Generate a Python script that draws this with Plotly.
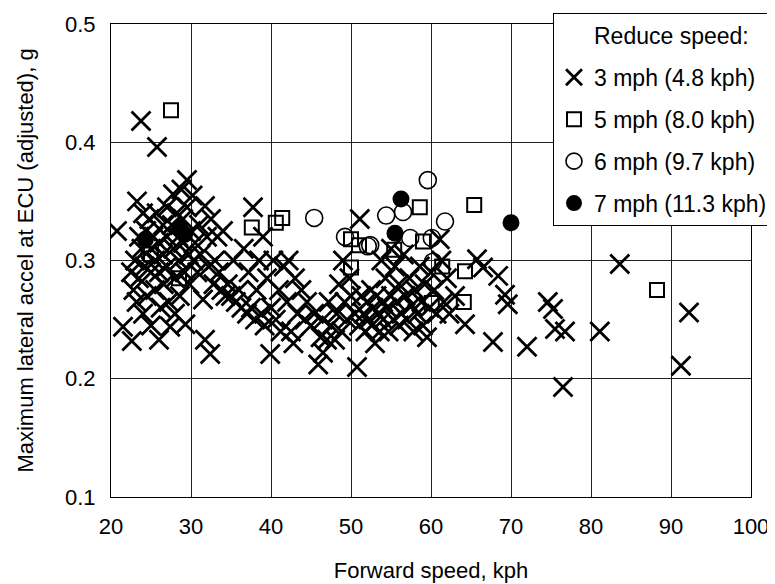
import plotly.graph_objects as go

# 3 mph (4.8 kph) runs
x3 = [23.75, 25.75,
      20.75, 21.5, 22.6, 22.5, 22.8, 23.0, 23.2, 23.25, 23.5, 23.5, 23.8, 24.0, 24.0, 24.2, 24.4, 24.5, 24.8,
      25.0, 25.0, 25.0, 25.3, 25.5, 25.5, 25.7, 26.0, 26.0, 26.0, 26.2, 26.5, 26.5, 26.6, 27.0, 27.0, 27.0,
      27.2, 27.4, 27.75, 27.6, 27.8, 28.0, 28.0, 28.2, 28.4, 28.5, 28.6, 28.8, 29.0, 29.0, 29.2, 29.3, 29.5,
      29.5, 29.7, 29.8, 30.0, 30.2, 30.3, 30.5, 30.8, 31.0, 31.2, 31.5, 31.75, 31.75, 32.0, 32.2, 32.4, 32.5,
      32.8, 33.0,
      33.3, 33.5, 33.8, 34.0, 34.3, 34.6, 35.0, 35.3, 35.6, 36.0, 36.3, 36.6, 37.0, 37.2, 37.5, 37.75, 38.0,
      38.2, 38.5, 38.8, 39.0, 39.2, 39.5, 39.9, 40.0, 40.3, 40.6, 41.0, 41.2, 41.6, 42.0, 42.2, 42.5, 42.8,
      43.0, 43.3, 43.8, 44.2, 44.5, 45.0, 45.4,
      45.9, 46.2, 46.5, 46.5, 47.0, 47.2, 47.5, 48.0, 48.2, 48.5, 48.8, 49.0, 49.2, 49.5, 49.8, 50.0,
      50.5, 50.75, 51.0, 51.1, 51.3, 51.6, 51.8, 52.0, 52.2, 52.5, 52.6, 52.8, 53.0, 53.2, 53.4, 53.6, 53.8,
      54.0, 54.0, 54.3, 54.5, 54.7, 55.0, 55.0, 55.3, 55.5, 55.7, 56.0, 56.0, 56.3, 56.6, 56.8, 57.0, 57.3,
      57.6, 57.8, 58.0, 58.3, 58.6, 58.8, 59.0, 59.2, 59.5, 59.8, 60.0, 60.4, 60.7, 61.1, 61.3, 61.6, 62.0,
      62.3, 63.0, 64.25, 65.75, 66.5, 68.4, 69.25, 69.6, 67.75, 72.0, 74.6, 75.25, 75.5, 76.75, 76.5, 81.1,
      83.6, 91.25, 92.25]
y3 = [0.418, 0.396,
      0.325, 0.244, 0.232, 0.290, 0.275, 0.300, 0.265, 0.350, 0.320, 0.285, 0.310, 0.340, 0.255, 0.295, 0.325, 0.270, 0.335,
      0.310, 0.290, 0.245, 0.320, 0.300, 0.275, 0.340, 0.233, 0.315, 0.290, 0.260, 0.330, 0.305, 0.280, 0.345, 0.320, 0.295,
      0.265, 0.244, 0.356, 0.330, 0.310, 0.285, 0.255, 0.340, 0.320, 0.300, 0.270, 0.360, 0.335, 0.315, 0.290, 0.246, 0.368,
      0.345, 0.305, 0.280, 0.325, 0.355, 0.300, 0.315, 0.290, 0.330, 0.305, 0.267, 0.346, 0.233, 0.320, 0.295, 0.221, 0.335,
      0.280, 0.300,
      0.320, 0.290, 0.275, 0.325, 0.270, 0.280, 0.270, 0.300, 0.265, 0.275, 0.260, 0.310, 0.255, 0.290, 0.260, 0.345, 0.250,
      0.275, 0.300, 0.255, 0.320, 0.245, 0.285, 0.221, 0.260, 0.300, 0.250, 0.275, 0.240, 0.295, 0.265, 0.300, 0.240, 0.230,
      0.285, 0.255, 0.275, 0.250, 0.265, 0.245, 0.255,
      0.212, 0.235, 0.250, 0.222, 0.233, 0.265, 0.245, 0.233, 0.255, 0.280, 0.240, 0.300, 0.265, 0.250, 0.285, 0.270,
      0.255, 0.210, 0.245, 0.335, 0.270, 0.255, 0.240, 0.265, 0.250, 0.275, 0.245, 0.260, 0.230, 0.270, 0.255, 0.240, 0.300,
      0.265, 0.250, 0.285, 0.260, 0.240, 0.270, 0.310, 0.250, 0.295, 0.265, 0.245, 0.280, 0.255, 0.305, 0.270, 0.250, 0.285,
      0.262, 0.240, 0.275, 0.255, 0.295, 0.265, 0.245, 0.280, 0.235, 0.260, 0.290, 0.275, 0.255, 0.318, 0.300, 0.265, 0.285,
      0.255, 0.270, 0.246, 0.301, 0.294, 0.287, 0.271, 0.263, 0.231, 0.227, 0.265, 0.259, 0.242, 0.240, 0.193, 0.240,
      0.297, 0.211, 0.256]

# 5 mph (8.0 kph) runs
x5 = [27.5, 25.0, 28.5, 37.6, 40.6, 41.4, 50.0, 51.0, 55.4, 58.6, 59.0, 50.0, 61.4, 64.25, 60.1, 64.1, 65.4, 88.25]
y5 = [0.427, 0.305, 0.285, 0.328, 0.332, 0.336, 0.318, 0.313, 0.309, 0.345, 0.316, 0.294, 0.295, 0.291, 0.264, 0.265, 0.347, 0.275]

# 6 mph (9.7 kph) runs
x6 = [24.8, 45.4, 49.25, 52.1, 52.4, 54.4, 56.5, 57.4, 59.6, 60.1, 60.25, 61.75]
y6 = [0.305, 0.336, 0.320, 0.312, 0.313, 0.338, 0.341, 0.319, 0.368, 0.319, 0.299, 0.333]

# 7 mph (11.3 kph) runs
x7 = [24.3, 28.6, 29.2, 55.5, 56.25, 70.0]
y7 = [0.318, 0.328, 0.322, 0.323, 0.352, 0.332]

legend_title = "Reduce speed:"
names = ["3 mph (4.8 kph)", "5 mph (8.0 kph)", "6 mph (9.7 kph)", "7 mph (11.3 kph)"]
x_ticks = [20, 30, 40, 50, 60, 70, 80, 90, 100]
y_ticks = [0.1, 0.2, 0.3, 0.4, 0.5]

FONT = "Liberation Sans, Arial, sans-serif"
FS = 22
W, H = 767, 576   # page body has an 8 px margin, so the figure fills 8..775 x 8..584

fig = go.Figure()
# legend heading row (no marks)
fig.add_trace(go.Scatter(x=[None], y=[None], mode="markers", name=legend_title, legendgroup="t",
                         marker=dict(color="rgba(0,0,0,0)", size=1), hoverinfo="skip"))
fig.add_trace(go.Scatter(x=x3, y=y3, mode="markers", name=names[0], legendgroup="a",
                         marker=dict(symbol="x-thin", size=19, color="black",
                                     line=dict(color="black", width=2.8))))
fig.add_trace(go.Scatter(x=x5, y=y5, mode="markers", name=names[1], legendgroup="b",
                         marker=dict(symbol="square-open", size=14, color="black",
                                     line=dict(color="black", width=2))))
fig.add_trace(go.Scatter(x=x6, y=y6, mode="markers", name=names[2], legendgroup="c",
                         marker=dict(symbol="circle-open", size=17, color="black",
                                     line=dict(color="black", width=1.6))))
fig.add_trace(go.Scatter(x=x7, y=y7, mode="markers", name=names[3], legendgroup="d",
                         marker=dict(symbol="circle", size=17, color="black",
                                     line=dict(color="black", width=0))))

axis_common = dict(showline=True, linecolor="black", linewidth=1, mirror=True,
                   showgrid=True, gridcolor="#222222", gridwidth=1,
                   ticks="", zeroline=False, automargin=False,
                   tickfont=dict(family=FONT, size=FS, color="black"))

fig.update_layout(
    width=W, height=H,
    margin=dict(l=103, r=24, t=16, b=87, autoexpand=False),
    paper_bgcolor="white", plot_bgcolor="white",
    font=dict(family=FONT, size=FS, color="black"),
    xaxis=dict(range=[20, 100], tickvals=x_ticks, ticktext=[str(v) for v in x_ticks],
               ticklabelstandoff=10,
               title=dict(text="Forward speed, kph", font=dict(family=FONT, size=FS), standoff=24),
               **axis_common),
    yaxis=dict(range=[0.1, 0.5], tickvals=y_ticks, ticktext=["%.1f" % v for v in y_ticks],
               ticklabelstandoff=10,
               title=dict(text="Maximum lateral accel at ECU (adjusted), g", font=dict(family=FONT, size=FS), standoff=25),
               **axis_common),
    legend=dict(xref="container", yref="container", x=545 / W, y=1 - 5 / H,
                xanchor="left", yanchor="top",
                bgcolor="white", bordercolor="black", borderwidth=1,
                font=dict(family=FONT, size=23, color="black"),
                tracegroupgap=9, itemwidth=30),
    showlegend=True,
)

fig.write_html("out.html")
